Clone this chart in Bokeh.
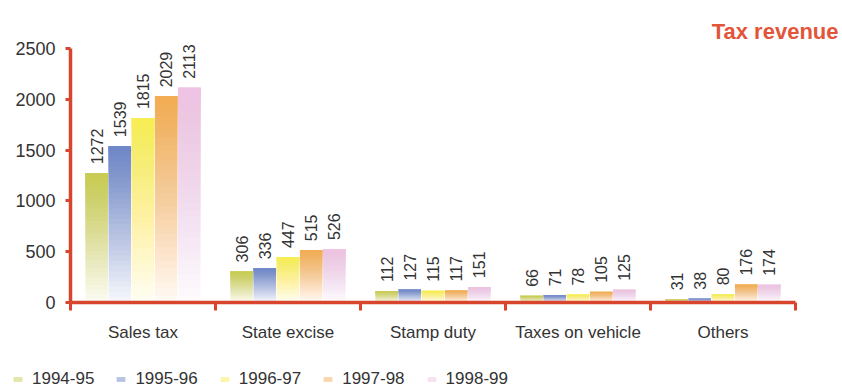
import math
from bokeh.plotting import figure
from bokeh.models import Range1d, FixedTicker, ColumnDataSource, Legend, LegendItem, Label
from bokeh.core.properties import value
from bokeh.embed import file_html
from bokeh.resources import INLINE

# ---- data ----
categories = ["Sales tax", "State excise", "Stamp duty", "Taxes on vehicle", "Others"]
years = ["1994-95", "1995-96", "1996-97", "1997-98", "1998-99"]
v1994_95 = [1272, 306, 112, 66, 31]
v1995_96 = [1539, 336, 127, 71, 38]
v1996_97 = [1815, 447, 115, 78, 80]
v1997_98 = [2029, 515, 117, 105, 176]
v1998_99 = [2113, 526, 151, 125, 174]
y_ticks = [0, 500, 1000, 1500, 2000, 2500]
y_max = 2500
title_text = "Tax revenue"

series = [v1994_95, v1995_96, v1996_97, v1997_98, v1998_99]
colors = ["#c9cc52", "#7088c8", "#f7ee55", "#f3ad55", "#eec3e3"]

AXIS = "#d9442c"
FONT = "Liberation Sans"
TXT = "#333333"

# ---- layout (pixels) : the frame is the whole canvas, axes drawn at fixed locations ----
W, H = 842, 389
plot_left, plot_right, plot_top, plot_bottom = 70, 795, 48, 302
ncat = len(categories)
px_per_cat = (plot_right - plot_left) / ncat
units_per_px = y_max / (plot_bottom - plot_top)
x_start = -0.5 - plot_left / px_per_cat
x_end = ncat - 0.5 + (W - plot_right) / px_per_cat
y_end = y_max + plot_top * units_per_px
y_start = -(H - plot_bottom) * units_per_px

p = figure(width=W, height=H,
           x_range=Range1d(x_start, x_end), y_range=Range1d(y_start, y_end),
           output_backend="svg", toolbar_location=None,
           min_border_left=0, min_border_right=0, min_border_top=0, min_border_bottom=0)
p.outline_line_color = None
p.grid.visible = False

# ---- axes ----
xa = p.xaxis[0]
xa.fixed_location = 0
xa.bounds = (-0.5, ncat - 0.5)
xa.ticker = FixedTicker(ticks=list(range(ncat)),
                        minor_ticks=[i - 0.5 for i in range(ncat + 1)])
xa.major_label_overrides = {i: c for i, c in enumerate(categories)}
xa.axis_line_color = AXIS
xa.axis_line_width = 3.5
xa.major_tick_out = 0
xa.major_tick_in = 0
xa.minor_tick_out = 8
xa.minor_tick_in = 0
xa.minor_tick_line_color = AXIS
xa.minor_tick_line_width = 3
xa.major_label_text_font = FONT
xa.major_label_text_font_size = "17px"
xa.major_label_text_color = TXT
xa.major_label_standoff = 12

ya = p.yaxis[0]
ya.fixed_location = -0.5
ya.bounds = (0, y_max)
ya.ticker = FixedTicker(ticks=y_ticks)
ya.axis_line_color = AXIS
ya.axis_line_width = 3.5
ya.major_tick_out = 5
ya.major_tick_in = 0
ya.major_tick_line_color = AXIS
ya.major_tick_line_width = 3
ya.minor_tick_line_color = None
ya.major_label_text_font = FONT
ya.major_label_text_font_size = "18px"
ya.major_label_text_color = TXT
ya.major_label_standoff = 10

# ---- gradient bars (stacked translucent layers, fading towards the bottom) ----
N = 30
bottom_alpha = 0.08
cum = [bottom_alpha + (1 - bottom_alpha) * n / (N - 1) for n in range(N)]
layer_alpha = []
prev = 0.0
for c in cum:
    a = 1 - (1 - c) / (1 - prev) if prev < 1 else 1.0
    layer_alpha.append(min(max(a, 0.0), 1.0))
    prev = c

width = 0.155
step = 0.16
legend_items = []
for j, (vals, col) in enumerate(zip(series, colors)):
    off = (j - 2) * step
    xs, bots, tops, alphas = [], [], [], []
    for i, v in enumerate(vals):
        for k in range(N):
            xs.append(i + off)
            bots.append(v * k / N)
            tops.append(v)
            alphas.append(layer_alpha[k])
    src = ColumnDataSource(dict(x=xs, bottom=bots, top=tops, alpha=alphas))
    r = p.vbar(x="x", bottom="bottom", top="top", width=width, source=src,
               fill_color=col, fill_alpha="alpha", line_color=None)
    legend_items.append(LegendItem(label=years[j], renderers=[r], index=N - 2))

    p.text(x=[i + off for i in range(len(vals))], y=vals, text=[str(v) for v in vals],
           angle=math.pi / 2, text_align="left", text_baseline="middle",
           y_offset=-9, text_font=value(FONT), text_font_size="16px", text_color=TXT)

legend = Legend(items=legend_items, orientation="horizontal", location=(12, 0),
                border_line_color=None, background_fill_alpha=0, padding=0, margin=0,
                spacing=21, label_standoff=9, glyph_width=11, glyph_height=6,
                label_text_font=FONT, label_text_font_size="17px",
                label_text_color=TXT, label_height=20)
p.add_layout(legend)

title = Label(x=x_end, y=y_end, x_offset=-4, y_offset=-31,
              text=title_text, text_align="right", text_baseline="alphabetic",
              text_font=FONT, text_font_size="22px", text_font_style="bold",
              text_color="#e2553a")
p.add_layout(title)

open("out.html", "w").write(file_html(p, INLINE))
